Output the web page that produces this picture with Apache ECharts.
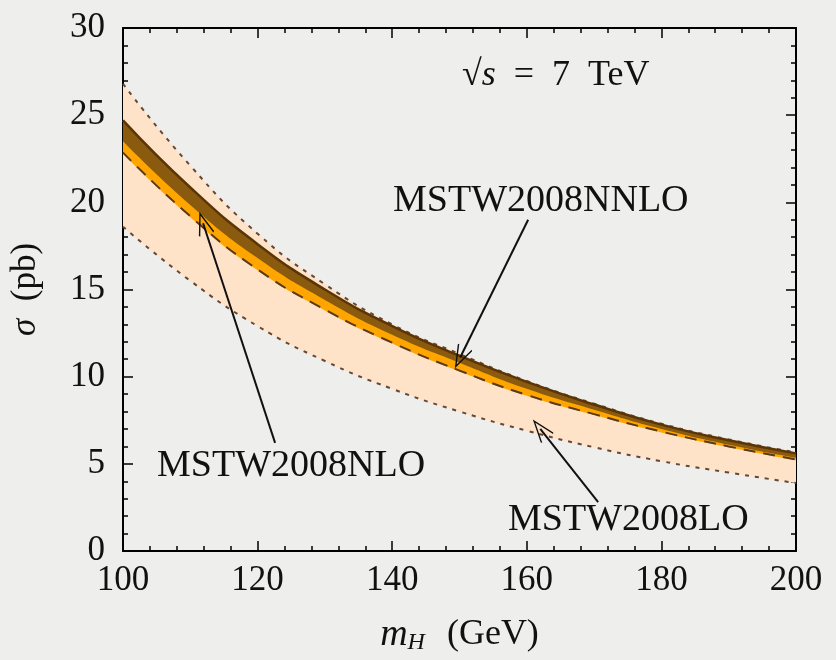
<!DOCTYPE html>
<html>
<head>
<meta charset="utf-8">
<script src="https://cdn.jsdelivr.net/npm/echarts@6/dist/echarts.min.js"></script>
<style>
html,body{margin:0;padding:0;background:#eeeeec;}
#c{width:836px;height:660px;}
</style>
</head>
<body>
<div id="c"></div>
<script>
// Higgs mass (GeV)
const mH = [100, 110, 120, 130, 140, 150, 160, 170, 180, 190, 200];
// LO band (pb)
const loUpper = [26.8, 22.1, 18.2, 15.3, 13.0, 11.3, 9.75, 8.45, 7.3, 6.4, 5.65];
const loLower = [18.6, 15.5, 12.9, 10.9, 9.3, 8.0, 6.9, 5.95, 5.15, 4.5, 3.9];
// NLO band (pb)
const nloUpper = [24.0, 20.25, 17.1, 14.7, 12.6, 11.0, 9.5, 8.3, 7.15, 6.25, 5.45];
const nloLower = [22.8, 19.15, 16.1, 13.8, 11.9, 10.3, 8.9, 7.8, 6.8, 5.95, 5.2];
// central dashed curve (pb)
const centralDashed = [22.85, 19.2, 16.15, 13.85, 11.95, 10.35, 8.95, 7.85, 6.85, 6.0, 5.25];
// NNLO band (pb)
const nnloUpper = [24.7, 20.85, 17.6, 15.0, 12.9, 11.2, 9.7, 8.4, 7.25, 6.35, 5.6];
const nnloLower = [23.5, 19.85, 16.8, 14.4, 12.4, 10.8, 9.3, 8.1, 7.0, 6.1, 5.35];
// axis ticks
const xTicks = [100, 120, 140, 160, 180, 200];
const yTicks = [0, 5, 10, 15, 20, 25, 30];
// annotation arrows [from, to] in data units
const arrowNNLO = [[160.2, 19.0], [150.1, 11.1]];
const arrowNLO = [[122.6, 6.2], [111.9, 18.8]];
const arrowLO = [[170.6, 2.8], [162.0, 7.0]];

const pts = arr => mH.map((x, i) => [x, arr[i]]);
const diff = (a, b) => a.map((v, i) => +(v - b[i]).toFixed(3));

const FONT = 'Liberation Serif';
const SM = 0.5;
const CAT = 2; // hidden category x-axis used for stacked bands

const chart = echarts.init(document.getElementById('c'), null, {renderer: 'canvas'});

const arrowPath = 'path://M0,0 L10,20 L8.6,21 L0,3.6 L-8.6,21 L-10,20 Z';

function band(name, lower, upper, color) {
  return [
    {name: name + 'Base', type: 'line', xAxisIndex: CAT, stack: name, data: lower.slice(), smooth: SM,
     symbol: 'none', lineStyle: {opacity: 0}, silent: true},
    {name: name, type: 'line', xAxisIndex: CAT, stack: name, data: diff(upper, lower), smooth: SM,
     symbol: 'none', lineStyle: {opacity: 0}, areaStyle: {color: color, opacity: 1}, silent: true}
  ];
}
function curve(name, arr, lineStyle) {
  return {name: name, type: 'line', xAxisIndex: CAT, data: arr.slice(), smooth: SM, symbol: 'none',
          silent: true, lineStyle: lineStyle};
}

const tickCommon = {
  axisLine: {show: true, onZero: false, lineStyle: {color: '#000', width: 2}},
  axisTick: {show: true, inside: true, length: 10, lineStyle: {color: '#000', width: 1.5}},
  minorTick: {show: true, splitNumber: 5, length: 5, lineStyle: {color: '#000', width: 1.5}},
  splitLine: {show: false}
};

const option = {
  backgroundColor: '#eeeeec',
  animation: false,
  grid: {left: 123, right: 40, top: 28, bottom: 104, containLabel: false},
  xAxis: [Object.assign({
    type: 'value', min: xTicks[0], max: xTicks[xTicks.length - 1], interval: 20,
    axisLabel: {color: '#111', fontFamily: FONT, fontSize: 35, margin: 12},
    name: '{i|m}{s|H}  (GeV)', nameLocation: 'middle', nameGap: 64,
    nameTextStyle: {color: '#111', fontFamily: FONT, fontSize: 36,
      rich: {i: {fontFamily: FONT, fontStyle: 'italic', fontSize: 38, color: '#111'},
             s: {fontFamily: FONT, fontStyle: 'italic', fontSize: 24, color: '#111', verticalAlign: 'bottom', padding: [16, 4, 0, 0]}}}
  }, tickCommon), Object.assign({
    type: 'value', position: 'top', min: xTicks[0], max: xTicks[xTicks.length - 1], interval: 20,
    axisLabel: {show: false}
  }, tickCommon), {
    type: 'category', data: mH.map(String), boundaryGap: false, show: false,
    axisLine: {show: false}, axisTick: {show: false}, axisLabel: {show: false}, splitLine: {show: false}
  }],
  yAxis: [Object.assign({
    type: 'value', min: yTicks[0], max: yTicks[yTicks.length - 1], interval: 5,
    axisLabel: {color: '#111', fontFamily: FONT, fontSize: 35, margin: 18},
    name: '{i|σ}  (pb)', nameLocation: 'middle', nameGap: 80, nameRotate: 90,
    nameTextStyle: {color: '#111', fontFamily: FONT, fontSize: 35,
      rich: {i: {fontFamily: FONT, fontStyle: 'italic', fontSize: 35, color: '#111'}}}
  }, tickCommon), Object.assign({
    type: 'value', position: 'right', min: yTicks[0], max: yTicks[yTicks.length - 1], interval: 5,
    axisLabel: {show: false}
  }, tickCommon)],
  series: [
    ...band('LO', loLower, loUpper, '#ffe3c9'),
    curve('LOup', loUpper, {color: '#6a4630', width: 2, type: [4, 6]}),
    curve('LOlow', loLower, {color: '#6a4630', width: 2, type: [4, 6]}),
    ...band('NLO', nloLower, nloUpper, '#ffa500'),
    curve('central', centralDashed, {color: '#5a3a1c', width: 2, type: [12, 8]}),
    ...band('NNLO', nnloLower, nnloUpper, '#8a5a0e'),
    curve('NNLOedge', nnloUpper, {color: '#5c3506', width: 2.5}),
    {name: 'arrows', type: 'line', xAxisIndex: 0, data: pts(nnloUpper), smooth: SM, symbol: 'none',
     silent: true, lineStyle: {opacity: 0},
     markLine: {
       silent: true, symbol: ['none', arrowPath], symbolSize: [16, 24],
       lineStyle: {color: '#111', width: 2, type: 'solid'},
       label: {show: false},
       data: [
         [{coord: arrowNNLO[0]}, {coord: arrowNNLO[1]}],
         [{coord: arrowNLO[0]}, {coord: arrowNLO[1]}],
         [{coord: arrowLO[0]}, {coord: arrowLO[1]}]
       ]
     }}
  ],
  graphic: [
    {type: 'text', left: 462, top: 58, z: 100, style: {
      text: '√{i|s}  =  7  TeV', fill: '#111', font: '36px "Liberation Serif"',
      rich: {i: {fontFamily: FONT, fontStyle: 'italic', fontSize: 36, fill: '#111'}}}},
    {type: 'text', left: 393, top: 182, z: 100, style: {text: 'MSTW2008NNLO', fill: '#111', font: '38px "Liberation Serif"'}},
    {type: 'text', left: 157, top: 447, z: 100, style: {text: 'MSTW2008NLO', fill: '#111', font: '38px "Liberation Serif"'}},
    {type: 'text', left: 508, top: 501, z: 100, style: {text: 'MSTW2008LO', fill: '#111', font: '38px "Liberation Serif"'}}
  ]
};
chart.setOption(option);
</script>
</body>
</html>
